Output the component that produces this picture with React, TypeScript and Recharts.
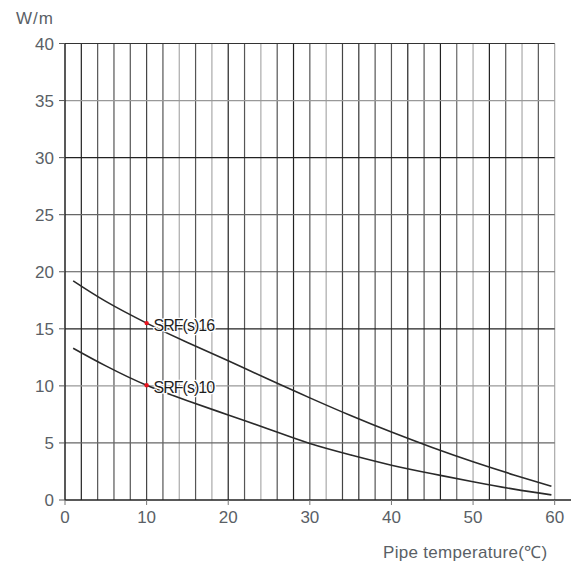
import React from 'react';
import { LineChart, Line, XAxis, YAxis, ReferenceLine, ReferenceDot } from 'recharts';

// ---- data ----
const temps = [1, 5, 10, 15, 20, 25, 30, 35, 40, 45, 50, 55, 59.6];
const srf16 = [19.2, 17.4, 15.5, 13.8, 12.2, 10.55, 8.95, 7.4, 5.95, 4.6, 3.35, 2.2, 1.2];
const srf10 = [13.3, 11.75, 10.05, 8.7, 7.45, 6.2, 4.95, 3.95, 3.05, 2.3, 1.6, 0.95, 0.45];
const xTicks = [0, 10, 20, 30, 40, 50, 60];
const yTicks = [0, 5, 10, 15, 20, 25, 30, 35, 40];
const gridX = [2, 4, 6, 8, 10, 12, 14, 16, 18, 20, 22, 24, 26, 28, 30, 32, 34, 36, 38, 40, 42, 44, 46, 48, 50, 52, 54, 56, 58, 60];
const gridY = [5, 10, 15, 20, 25, 30, 35, 40];
const seriesLabels = ['SRF(s)16', 'SRF(s)10'];
const markerX = 10;

// ---- styles (scan-like varying line shades) ----
const shadeX: Record<number, string> = {
  2: '#222', 4: '#555', 6: '#555', 8: '#555', 10: '#444', 12: '#555', 14: '#aaa', 16: '#555', 18: '#aaa',
  20: '#222', 22: '#555', 24: '#aaa', 26: '#555', 28: '#222', 30: '#555', 32: '#aaa', 34: '#444',
  36: '#333', 38: '#555', 40: '#555', 42: '#222', 44: '#555', 46: '#222', 48: '#666', 50: '#aaa',
  52: '#222', 54: '#555', 56: '#aaa', 58: '#555', 60: '#aaa',
};
const shadeY: Record<number, string> = {
  5: '#666', 10: '#999', 15: '#222', 20: '#555', 25: '#666', 30: '#222', 35: '#999', 40: '#333',
};

const data = temps.map((t, i) => ({ x: t, a: srf16[i], b: srf10[i] }));
const markerVals = [srf16[temps.indexOf(markerX)], srf10[temps.indexOf(markerX)]];

const FONT = '"Liberation Sans", Arial, sans-serif';
const tickStyle = { fill: '#5a5f66', fontSize: 17, fontFamily: FONT };

const SeriesLabel = (props: any) => {
  const { viewBox, value } = props;
  const cx = viewBox.x + (viewBox.width || 0) / 2;
  const cy = viewBox.y + (viewBox.height || 0) / 2;
  return (
    <text x={cx + 7} y={cy + 3.5} dominantBaseline="middle" fill="#1e1e1e" fontSize={16}
      fontFamily={FONT} letterSpacing={-1} stroke="#fff" strokeWidth={2.5} paintOrder="stroke"
      strokeLinejoin="round">
      {value}
    </text>
  );
};

export default function App() {
  return (
    <div style={{ position: 'absolute', left: 0, top: 0, width: 574, height: 562, background: '#fff' }}>
      <div style={{ position: 'absolute', left: 16, top: 9, fontFamily: FONT, fontSize: 17, color: '#5a5f66', letterSpacing: 1 }}>W/m</div>
      <div style={{ position: 'absolute', left: 383, top: 540, fontFamily: FONT, fontSize: 17, color: '#5a5f66', letterSpacing: 0.3 }}>
        Pipe temperature(℃)
      </div>
      <LineChart width={574} height={562} data={data}
        margin={{ top: 43.5, right: 3, bottom: 32, left: 5 }}>
        {gridX.map((g) => (
          <ReferenceLine key={'gx' + g} x={g} stroke={shadeX[g]} strokeWidth={1.2} />
        ))}
        {gridY.map((g) => (
          <ReferenceLine key={'gy' + g} segment={[{ x: 0, y: g }, { x: 60, y: g }]} stroke={shadeY[g]} strokeWidth={1.2} />
        ))}
        <XAxis type="number" dataKey="x" domain={[0, 62]} ticks={xTicks} interval={0}
          axisLine={{ stroke: '#222', strokeWidth: 1.5 }} tickLine={{ stroke: '#777' }} tickSize={5} tickMargin={6}
          tick={tickStyle} allowDataOverflow />
        <YAxis type="number" domain={[0, 40]} ticks={yTicks} interval={0} width={60}
          axisLine={{ stroke: '#222', strokeWidth: 1.5 }} tickLine={{ stroke: '#555' }} tickSize={6} tickMargin={5}
          tick={tickStyle} />
        <Line type="natural" dataKey="a" stroke="#2a2a2a" strokeWidth={1.6} dot={false} isAnimationActive={false} />
        <Line type="natural" dataKey="b" stroke="#2a2a2a" strokeWidth={1.6} dot={false} isAnimationActive={false} />
        {markerVals.map((v, i) => (
          <ReferenceDot key={'m' + i} x={markerX} y={v} r={2.2} fill="#e8141e" stroke="none"
            label={<SeriesLabel value={seriesLabels[i]} />} />
        ))}
      </LineChart>
    </div>
  );
}
